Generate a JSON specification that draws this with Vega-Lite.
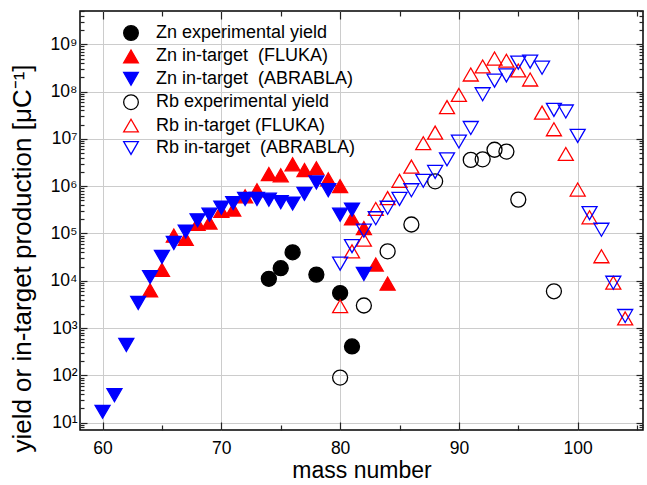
{
  "$schema": "https://vega.github.io/schema/vega-lite/v6.json",
  "width": 563,
  "height": 419,
  "autosize": {"type": "none"},
  "padding": {"left": 80, "top": 11, "right": 4, "bottom": 55},
  "background": "white",
  "config": {
    "font": "Liberation Sans",
    "view": {"stroke": "black", "strokeWidth": 1.5},
    "axis": {
      "labelFont": "Liberation Sans",
      "titleFont": "Liberation Sans",
      "labelColor": "black",
      "titleColor": "black",
      "titleFontWeight": "normal",
      "labelFontSize": 17.5,
      "titleFontSize": 23,
      "gridColor": "#cccccc",
      "gridWidth": 1,
      "tickColor": "#222222",
      "tickWidth": 1.2,
      "domain": false,
      "labelOverlap": false,
      "labelFlush": false,
      "labelBound": false
    },
    "legend": {
      "orient": "none",
      "legendX": 42,
      "legendY": 13,
      "labelFont": "Liberation Sans",
      "labelFontSize": 18,
      "labelColor": "black",
      "labelLimit": 400,
      "symbolSize": 215,
      "symbolStrokeWidth": 1.3,
      "rowPadding": 4.4,
      "labelOffset": 16,
      "padding": 0
    }
  },
  "data": {
    "values": [
      {"series": "Zn experimental yield", "mass": 74, "value": 11000},
      {"series": "Zn experimental yield", "mass": 75, "value": 18500},
      {"series": "Zn experimental yield", "mass": 76, "value": 40000},
      {"series": "Zn experimental yield", "mass": 78, "value": 13500},
      {"series": "Zn experimental yield", "mass": 80, "value": 5500},
      {"series": "Zn experimental yield", "mass": 81, "value": 410},

      {"series": "Zn in-target \u00a0(FLUKA)", "mass": 64, "value": 6300},
      {"series": "Zn in-target \u00a0(FLUKA)", "mass": 65, "value": 17000},
      {"series": "Zn in-target \u00a0(FLUKA)", "mass": 66, "value": 90000},
      {"series": "Zn in-target \u00a0(FLUKA)", "mass": 67, "value": 77000},
      {"series": "Zn in-target \u00a0(FLUKA)", "mass": 68, "value": 160000},
      {"series": "Zn in-target \u00a0(FLUKA)", "mass": 69, "value": 170000},
      {"series": "Zn in-target \u00a0(FLUKA)", "mass": 70, "value": 300000},
      {"series": "Zn in-target \u00a0(FLUKA)", "mass": 71, "value": 320000},
      {"series": "Zn in-target \u00a0(FLUKA)", "mass": 72, "value": 610000},
      {"series": "Zn in-target \u00a0(FLUKA)", "mass": 73, "value": 820000},
      {"series": "Zn in-target \u00a0(FLUKA)", "mass": 74, "value": 1800000},
      {"series": "Zn in-target \u00a0(FLUKA)", "mass": 75, "value": 1700000},
      {"series": "Zn in-target \u00a0(FLUKA)", "mass": 76, "value": 2900000},
      {"series": "Zn in-target \u00a0(FLUKA)", "mass": 77, "value": 2200000},
      {"series": "Zn in-target \u00a0(FLUKA)", "mass": 78, "value": 2400000},
      {"series": "Zn in-target \u00a0(FLUKA)", "mass": 79, "value": 1400000},
      {"series": "Zn in-target \u00a0(FLUKA)", "mass": 80, "value": 1000000},
      {"series": "Zn in-target \u00a0(FLUKA)", "mass": 81, "value": 210000},
      {"series": "Zn in-target \u00a0(FLUKA)", "mass": 82, "value": 130000},
      {"series": "Zn in-target \u00a0(FLUKA)", "mass": 83, "value": 22000},
      {"series": "Zn in-target \u00a0(FLUKA)", "mass": 84, "value": 8700},

      {"series": "Zn in-target \u00a0(ABRABLA)", "mass": 60, "value": 17},
      {"series": "Zn in-target \u00a0(ABRABLA)", "mass": 61, "value": 38},
      {"series": "Zn in-target \u00a0(ABRABLA)", "mass": 62, "value": 440},
      {"series": "Zn in-target \u00a0(ABRABLA)", "mass": 63, "value": 3400},
      {"series": "Zn in-target \u00a0(ABRABLA)", "mass": 64, "value": 12000},
      {"series": "Zn in-target \u00a0(ABRABLA)", "mass": 65, "value": 32000},
      {"series": "Zn in-target \u00a0(ABRABLA)", "mass": 66, "value": 63000},
      {"series": "Zn in-target \u00a0(ABRABLA)", "mass": 67, "value": 110000},
      {"series": "Zn in-target \u00a0(ABRABLA)", "mass": 68, "value": 190000},
      {"series": "Zn in-target \u00a0(ABRABLA)", "mass": 69, "value": 250000},
      {"series": "Zn in-target \u00a0(ABRABLA)", "mass": 70, "value": 350000},
      {"series": "Zn in-target \u00a0(ABRABLA)", "mass": 71, "value": 440000},
      {"series": "Zn in-target \u00a0(ABRABLA)", "mass": 72, "value": 540000},
      {"series": "Zn in-target \u00a0(ABRABLA)", "mass": 73, "value": 540000},
      {"series": "Zn in-target \u00a0(ABRABLA)", "mass": 74, "value": 520000},
      {"series": "Zn in-target \u00a0(ABRABLA)", "mass": 75, "value": 460000},
      {"series": "Zn in-target \u00a0(ABRABLA)", "mass": 76, "value": 430000},
      {"series": "Zn in-target \u00a0(ABRABLA)", "mass": 77, "value": 690000},
      {"series": "Zn in-target \u00a0(ABRABLA)", "mass": 78, "value": 1200000},
      {"series": "Zn in-target \u00a0(ABRABLA)", "mass": 79, "value": 820000},
      {"series": "Zn in-target \u00a0(ABRABLA)", "mass": 80, "value": 250000},
      {"series": "Zn in-target \u00a0(ABRABLA)", "mass": 81, "value": 320000},
      {"series": "Zn in-target \u00a0(ABRABLA)", "mass": 82, "value": 14000},

      {"series": "Rb experimental yield", "mass": 80, "value": 90},
      {"series": "Rb experimental yield", "mass": 82, "value": 3000},
      {"series": "Rb experimental yield", "mass": 84, "value": 42000},
      {"series": "Rb experimental yield", "mass": 86, "value": 155000},
      {"series": "Rb experimental yield", "mass": 88, "value": 1270000},
      {"series": "Rb experimental yield", "mass": 91, "value": 3600000},
      {"series": "Rb experimental yield", "mass": 92, "value": 3700000},
      {"series": "Rb experimental yield", "mass": 93, "value": 5900000},
      {"series": "Rb experimental yield", "mass": 94, "value": 5400000},
      {"series": "Rb experimental yield", "mass": 95, "value": 520000},
      {"series": "Rb experimental yield", "mass": 98, "value": 6000},

      {"series": "Rb in-target (FLUKA)", "mass": 80, "value": 2900},
      {"series": "Rb in-target (FLUKA)", "mass": 81, "value": 42000},
      {"series": "Rb in-target (FLUKA)", "mass": 82, "value": 74000},
      {"series": "Rb in-target (FLUKA)", "mass": 83, "value": 330000},
      {"series": "Rb in-target (FLUKA)", "mass": 84, "value": 560000},
      {"series": "Rb in-target (FLUKA)", "mass": 85, "value": 1300000},
      {"series": "Rb in-target (FLUKA)", "mass": 86, "value": 2600000},
      {"series": "Rb in-target (FLUKA)", "mass": 87, "value": 8100000},
      {"series": "Rb in-target (FLUKA)", "mass": 88, "value": 13600000},
      {"series": "Rb in-target (FLUKA)", "mass": 89, "value": 47000000},
      {"series": "Rb in-target (FLUKA)", "mass": 90, "value": 85000000},
      {"series": "Rb in-target (FLUKA)", "mass": 91, "value": 230000000},
      {"series": "Rb in-target (FLUKA)", "mass": 92, "value": 340000000},
      {"series": "Rb in-target (FLUKA)", "mass": 93, "value": 500000000},
      {"series": "Rb in-target (FLUKA)", "mass": 94, "value": 450000000},
      {"series": "Rb in-target (FLUKA)", "mass": 95, "value": 280000000},
      {"series": "Rb in-target (FLUKA)", "mass": 96, "value": 180000000},
      {"series": "Rb in-target (FLUKA)", "mass": 97, "value": 36000000},
      {"series": "Rb in-target (FLUKA)", "mass": 98, "value": 16000000},
      {"series": "Rb in-target (FLUKA)", "mass": 99, "value": 4800000},
      {"series": "Rb in-target (FLUKA)", "mass": 100, "value": 850000},
      {"series": "Rb in-target (FLUKA)", "mass": 101, "value": 220000},
      {"series": "Rb in-target (FLUKA)", "mass": 102, "value": 33000},
      {"series": "Rb in-target (FLUKA)", "mass": 103, "value": 9100},
      {"series": "Rb in-target (FLUKA)", "mass": 104, "value": 1600},

      {"series": "Rb in-target \u00a0(ABRABLA)", "mass": 80, "value": 23000},
      {"series": "Rb in-target \u00a0(ABRABLA)", "mass": 81, "value": 54000},
      {"series": "Rb in-target \u00a0(ABRABLA)", "mass": 82, "value": 115000},
      {"series": "Rb in-target \u00a0(ABRABLA)", "mass": 83, "value": 210000},
      {"series": "Rb in-target \u00a0(ABRABLA)", "mass": 84, "value": 350000},
      {"series": "Rb in-target \u00a0(ABRABLA)", "mass": 85, "value": 540000},
      {"series": "Rb in-target \u00a0(ABRABLA)", "mass": 86, "value": 820000},
      {"series": "Rb in-target \u00a0(ABRABLA)", "mass": 87, "value": 1300000},
      {"series": "Rb in-target \u00a0(ABRABLA)", "mass": 88, "value": 2000000},
      {"series": "Rb in-target \u00a0(ABRABLA)", "mass": 89, "value": 3700000},
      {"series": "Rb in-target \u00a0(ABRABLA)", "mass": 90, "value": 8800000},
      {"series": "Rb in-target \u00a0(ABRABLA)", "mass": 91, "value": 17000000},
      {"series": "Rb in-target \u00a0(ABRABLA)", "mass": 92, "value": 88000000},
      {"series": "Rb in-target \u00a0(ABRABLA)", "mass": 93, "value": 170000000},
      {"series": "Rb in-target \u00a0(ABRABLA)", "mass": 94, "value": 220000000},
      {"series": "Rb in-target \u00a0(ABRABLA)", "mass": 95, "value": 410000000},
      {"series": "Rb in-target \u00a0(ABRABLA)", "mass": 96, "value": 430000000},
      {"series": "Rb in-target \u00a0(ABRABLA)", "mass": 97, "value": 320000000},
      {"series": "Rb in-target \u00a0(ABRABLA)", "mass": 98, "value": 41000000},
      {"series": "Rb in-target \u00a0(ABRABLA)", "mass": 99, "value": 38000000},
      {"series": "Rb in-target \u00a0(ABRABLA)", "mass": 100, "value": 11600000},
      {"series": "Rb in-target \u00a0(ABRABLA)", "mass": 101, "value": 270000},
      {"series": "Rb in-target \u00a0(ABRABLA)", "mass": 102, "value": 120000},
      {"series": "Rb in-target \u00a0(ABRABLA)", "mass": 103, "value": 9100},
      {"series": "Rb in-target \u00a0(ABRABLA)", "mass": 104, "value": 1800}
    ]
  },
  "layer": [
    {
      "mark": {"type": "point", "filled": false, "size": 225, "strokeWidth": 1.3, "opacity": 1},
      "encoding": {
        "x": {
          "field": "mass", "type": "quantitative",
          "scale": {"domain": [58.1, 105.5], "nice": false, "zero": false},
          "axis": {
            "orient": "bottom",
            "title": "mass number",
            "values": [60, 65, 70, 75, 80, 85, 90, 95, 100, 105],
            "labelExpr": "datum.value % 10 == 0 ? datum.label : ''",
            "gridOpacity": {"condition": {"test": "datum.value % 10 == 0", "value": 1}, "value": 0},
            "tickSize": {"condition": {"test": "datum.value % 10 == 0", "value": -8}, "value": -5},
            "labelPadding": 17,
            "titleBaseline": "alphabetic",
            "titleY": 47
          }
        },
        "y": {
          "field": "value", "type": "quantitative",
          "scale": {"type": "log", "domain": [7, 5060000000], "nice": false, "zero": false},
          "axis": {
            "orient": "left",
            "title": "yield or in-target production [μC⁻¹]",
            "titleFontSize": 26,
            "titleX": -45,
            "titleY": 247,
            "titleBaseline": "bottom",
            "values": [8, 9, 10, 20, 30, 40, 50, 60, 70, 80, 90, 100, 200, 300, 400, 500, 600, 700, 800, 900, 1000, 2000, 3000, 4000, 5000, 6000, 7000, 8000, 9000, 10000, 20000, 30000, 40000, 50000, 60000, 70000, 80000, 90000, 100000, 200000, 300000, 400000, 500000, 600000, 700000, 800000, 900000, 1000000, 2000000, 3000000, 4000000, 5000000, 6000000, 7000000, 8000000, 9000000, 10000000, 20000000, 30000000, 40000000, 50000000, 60000000, 70000000, 80000000, 90000000, 100000000, 200000000, 300000000, 400000000, 500000000, 600000000, 700000000, 800000000, 900000000, 1000000000, 2000000000, 3000000000, 4000000000, 5000000000],
            "labelExpr": "abs(log(datum.value)/LN10 - round(log(datum.value)/LN10)) < 0.000001 ? '10' + ['⁰','¹','²','³','⁴','⁵','⁶','⁷','⁸','⁹'][round(log(datum.value)/LN10)] : ''",
            "gridOpacity": {"condition": {"test": "abs(log(datum.value)/LN10 - round(log(datum.value)/LN10)) < 0.000001", "value": 1}, "value": 0},
            "tickSize": {"condition": {"test": "abs(log(datum.value)/LN10 - round(log(datum.value)/LN10)) < 0.000001", "value": -7}, "value": -4},
            "labelPadding": 10
          }
        },
        "shape": {
          "field": "series", "type": "nominal",
          "scale": {
            "domain": ["Zn experimental yield", "Zn in-target \u00a0(FLUKA)", "Zn in-target \u00a0(ABRABLA)", "Rb experimental yield", "Rb in-target (FLUKA)", "Rb in-target \u00a0(ABRABLA)"],
            "range": ["circle", "triangle-up", "triangle-down", "circle", "triangle-up", "triangle-down"]
          },
          "legend": {"title": null}
        },
        "fill": {
          "field": "series", "type": "nominal",
          "scale": {
            "domain": ["Zn experimental yield", "Zn in-target \u00a0(FLUKA)", "Zn in-target \u00a0(ABRABLA)", "Rb experimental yield", "Rb in-target (FLUKA)", "Rb in-target \u00a0(ABRABLA)"],
            "range": ["#000000", "#ff0000", "#0000ff", "transparent", "transparent", "transparent"]
          },
          "legend": {"title": null}
        },
        "stroke": {
          "field": "series", "type": "nominal",
          "scale": {
            "domain": ["Zn experimental yield", "Zn in-target \u00a0(FLUKA)", "Zn in-target \u00a0(ABRABLA)", "Rb experimental yield", "Rb in-target (FLUKA)", "Rb in-target \u00a0(ABRABLA)"],
            "range": ["#000000", "#ff0000", "#0000ff", "#000000", "#ff0000", "#0000ff"]
          },
          "legend": {"title": null}
        }
      }
    },
    {
      "mark": {"type": "point", "opacity": 0},
      "encoding": {
        "x": {
          "field": "mass", "type": "quantitative",
          "scale": {"domain": [58.1, 105.5], "nice": false, "zero": false},
          "axis": {
            "orient": "top",
            "title": null,
            "labels": false,
            "grid": false,
            "values": [60, 65, 70, 75, 80, 85, 90, 95, 100, 105],
            "tickSize": {"condition": {"test": "datum.value % 10 == 0", "value": -8}, "value": -5}
          }
        },
        "y": {
          "field": "value", "type": "quantitative",
          "scale": {"type": "log", "domain": [7, 5060000000], "nice": false, "zero": false},
          "axis": {
            "orient": "right",
            "title": null,
            "labels": false,
            "grid": false,
            "values": [8, 9, 10, 20, 30, 40, 50, 60, 70, 80, 90, 100, 200, 300, 400, 500, 600, 700, 800, 900, 1000, 2000, 3000, 4000, 5000, 6000, 7000, 8000, 9000, 10000, 20000, 30000, 40000, 50000, 60000, 70000, 80000, 90000, 100000, 200000, 300000, 400000, 500000, 600000, 700000, 800000, 900000, 1000000, 2000000, 3000000, 4000000, 5000000, 6000000, 7000000, 8000000, 9000000, 10000000, 20000000, 30000000, 40000000, 50000000, 60000000, 70000000, 80000000, 90000000, 100000000, 200000000, 300000000, 400000000, 500000000, 600000000, 700000000, 800000000, 900000000, 1000000000, 2000000000, 3000000000, 4000000000, 5000000000],
            "tickSize": {"condition": {"test": "abs(log(datum.value)/LN10 - round(log(datum.value)/LN10)) < 0.000001", "value": -7}, "value": -4}
          }
        }
      }
    }
  ],
  "resolve": {"axis": {"x": "independent", "y": "independent"}}
}
